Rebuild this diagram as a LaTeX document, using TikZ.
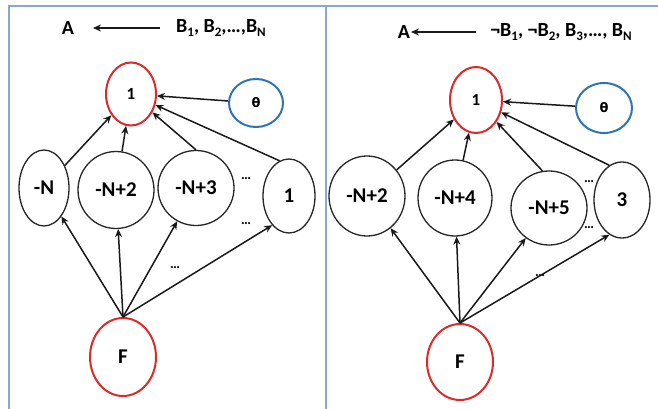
\documentclass[tikz,border=0pt]{standalone}
\usepackage{fontspec}
\setmainfont{Carlito}
\newfontfamily\symfont{DejaVu Sans}
\usetikzlibrary{shapes.geometric,arrows.meta}
\definecolor{nred}{HTML}{DC2A2A}
\definecolor{nblue}{HTML}{2E75B6}
\definecolor{frame}{HTML}{8AA6D2}
\newcommand{\sbs}[1]{\raisebox{-0.22em}{\fontsize{13}{13}\selectfont #1}}
\tikzset{
  el/.style={ellipse,draw=black!85,line width=1.3pt,inner sep=0pt,font=\bfseries\fontsize{21}{21}\selectfont},
  redel/.style={el,draw=nred,line width=2pt},
  blueel/.style={el,draw=nblue,line width=2pt},
  arr/.style={-{Stealth[length=8pt,width=7pt]},line width=1.5pt,black!90},
  dots/.style={font=\bfseries\fontsize{14}{14}\selectfont,inner sep=0pt},
  ttl/.style={font=\bfseries\fontsize{20}{20}\selectfont,inner sep=0pt}
}
\begin{document}
\begin{tikzpicture}[x=1pt,y=-1pt]
\useasboundingbox (0,0) rectangle (658,409);
\draw[frame,line width=1.8pt] (9,409) -- (9,6) -- (658,6);
\draw[frame,line width=1.8pt] (326,6) -- (326,409);

% ---------- left panel ----------
\node[ttl] (lA) at (68,28) {A};
\node[ttl] (lB) at (221,28) {B\sbs{1}, B\sbs{2},\ldots,B\sbs{N}};
\coordinate (lArS) at (160,28);
\coordinate (lArE) at (93,28);
\draw[arr] (lArS) -- (lArE);

\node[redel,minimum width=50pt,minimum height=63pt,font=\bfseries\fontsize{17}{17}\selectfont] (lt) at (131,94) {1};
\node[blueel,minimum width=54pt,minimum height=48pt,font=\bfseries\fontsize{13}{13}\selectfont] (lth) at (256,103) {\symfont θ};
\node[el,minimum width=50pt,minimum height=76pt] (la) at (44,188) {-N};
\node[el,minimum width=76pt,minimum height=77pt] (lb) at (116,190) {-N+2};
\node[el,minimum width=76pt,minimum height=75pt] (lc) at (196,188) {-N+3};
\node[el,minimum width=52pt,minimum height=74pt] (ld) at (289,196) {1};
\node[redel,minimum width=66pt,minimum height=78pt] (lF) at (123,357) {F};
\node[dots] (ldots1) at (246,179) {\ldots};
\node[dots] (ldots2) at (246,224) {\ldots};
\node[dots] (ldots3) at (175,268) {\ldots};

\draw[arr] (la) -- (lt);
\draw[arr] (lb) -- (lt);
\draw[arr] (lc.north) -- (lt);
\draw[arr] (ld.105) -- (lt);
\draw[arr] (lth) -- (lt);
\draw[arr] (lF.north) -- (la);
\draw[arr] (lF.north) -- (lb);
\draw[arr] (lF.north) -- (lc);
\draw[arr] (lF.north) -- (ld.240);

% ---------- right panel ----------
\node[ttl] (rA) at (404,32) {A};
\node[ttl] (rB) at (561,32) {¬B\sbs{1}, ¬B\sbs{2}, B\sbs{3},\ldots, B\sbs{N}};
\coordinate (rArS) at (476,32);
\coordinate (rArE) at (411,32);
\draw[arr] (rArS) -- (rArE);

\node[redel,minimum width=52pt,minimum height=66pt,font=\bfseries\fontsize{17}{17}\selectfont] (rt) at (476,100) {1};
\node[blueel,minimum width=56pt,minimum height=50pt,font=\bfseries\fontsize{13}{13}\selectfont] (rth) at (604,108) {\symfont θ};
\node[el,minimum width=76pt,minimum height=80pt] (ra) at (367,196) {-N+2};
\node[el,minimum width=74pt,minimum height=76pt] (rb) at (455,198) {-N+4};
\node[el,minimum width=76pt,minimum height=74pt] (rc) at (549,208) {-N+5};
\node[el,minimum width=56pt,minimum height=76pt] (rd) at (622,200) {3};
\node[redel,minimum width=66pt,minimum height=76pt] (rF) at (460,362) {F};
\node[dots] (rdots1) at (589,182) {\ldots};
\node[dots] (rdots2) at (589,228) {\ldots};
\node[dots] (rdots3) at (540,276) {\ldots};

\draw[arr] (ra) -- (rt);
\draw[arr] (rb) -- (rt);
\draw[arr] (rc.100) -- (rt);
\draw[arr] (rd.110) -- (rt);
\draw[arr] (rth) -- (rt);
\draw[arr] (rF.north) -- (ra);
\draw[arr] (rF.north) -- (rb);
\draw[arr] (rF.north) -- (rc);
\draw[arr] (rF.north) -- (rd.250);
\end{tikzpicture}
\end{document}
